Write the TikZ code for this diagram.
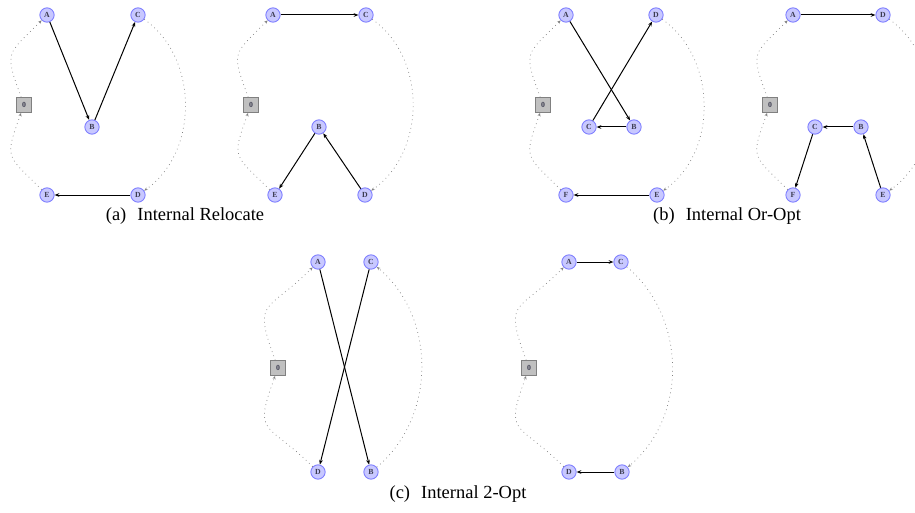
\documentclass[tikz,border=0pt]{standalone}
\usepackage{fontspec}
\setmainfont{Liberation Serif}
\usetikzlibrary{arrows.meta}
\definecolor{custfill}{RGB}{200,200,255}
\definecolor{custdraw}{RGB}{128,128,255}
\definecolor{depotfill}{RGB}{192,192,192}
\definecolor{depotdraw}{RGB}{128,128,128}
\definecolor{labeltext}{RGB}{60,60,80}

\begin{document}
\begin{tikzpicture}[x=0.552pt, y=0.552pt,
    cust/.style={circle, draw=custdraw, fill=custfill, line width=0.5pt,
                 minimum size=7.9pt, inner sep=0pt,
                 font=\fontsize{4.3}{4.3}\selectfont\bfseries, text=labeltext},
    depot/.style={rectangle, draw=depotdraw, fill=depotfill, line width=0.6pt,
                  minimum size=8pt, inner sep=0pt,
                  font=\fontsize{4.3}{4.3}\selectfont\bfseries, text=labeltext},
    route/.style={-{Stealth[length=2.6pt,width=2pt]}, line width=0.55pt},
    rest/.style={-{Stealth[length=2pt,width=1.6pt]}, dotted, gray, line width=0.4pt},
    subcap/.style={font=\fontsize{10.2}{12}\selectfont, anchor=base}
]
\useasboundingbox (0,0) rectangle (915,512);

% (a) Internal Relocate -- before
\node[cust] (alA) at (47,497) {A};
\node[cust] (alC) at (138,497) {C};
\node[depot] (al0) at (24,407) {0};
\node[cust] (alB) at (92,385) {B};
\node[cust] (alE) at (47,317) {E};
\node[cust] (alD) at (138,317) {D};
\draw[route] (alA) -- (alB);
\draw[route] (alB) -- (alC);
\draw[route] (alD) -- (alE);
\draw[rest] (al0) to[out=110,in=225,looseness=1.6] (alA);
\draw[rest] (alC) to[out=-35,in=35] (alD);
\draw[rest] (alE) to[out=135,in=250,looseness=1.6] (al0);

% (a) Internal Relocate -- after
\node[cust] (arA) at (273,497) {A};
\node[cust] (arC) at (366,497) {C};
\node[depot] (ar0) at (251,407) {0};
\node[cust] (arB) at (319,385) {B};
\node[cust] (arE) at (275,317) {E};
\node[cust] (arD) at (365,317) {D};
\draw[route] (arA) -- (arC);
\draw[route] (arD) -- (arB);
\draw[route] (arB) -- (arE);
\draw[rest] (ar0) to[out=110,in=225,looseness=1.6] (arA);
\draw[rest] (arC) to[out=-35,in=35] (arD);
\draw[rest] (arE) to[out=135,in=250,looseness=1.6] (ar0);

\node[subcap] (capa) at (185,292) {(a)\hspace{0.6em}Internal Relocate};

% (b) Internal Or-Opt -- before
\node[cust] (blA) at (566,497) {A};
\node[cust] (blD) at (656,497) {D};
\node[depot] (bl0) at (543,407) {0};
\node[cust] (blC) at (589,385) {C};
\node[cust] (blB) at (634,385) {B};
\node[cust] (blF) at (566,317) {F};
\node[cust] (blE) at (657,317) {E};
\draw[route] (blA) -- (blB);
\draw[route] (blB) -- (blC);
\draw[route] (blC) -- (blD);
\draw[route] (blE) -- (blF);
\draw[rest] (bl0) to[out=110,in=225,looseness=1.6] (blA);
\draw[rest] (blD) to[out=-35,in=35] (blE);
\draw[rest] (blF) to[out=135,in=250,looseness=1.6] (bl0);

% (b) Internal Or-Opt -- after
\node[cust] (brA) at (793,497) {A};
\node[cust] (brD) at (883,497) {D};
\node[depot] (br0) at (770,407) {0};
\node[cust] (brC) at (815,385) {C};
\node[cust] (brB) at (861,385) {B};
\node[cust] (brF) at (793,317) {F};
\node[cust] (brE) at (883,317) {E};
\draw[route] (brA) -- (brD);
\draw[route] (brE) -- (brB);
\draw[route] (brB) -- (brC);
\draw[route] (brC) -- (brF);
\draw[rest] (br0) to[out=110,in=225,looseness=1.6] (brA);
\draw[rest] (brD) to[out=-35,in=35] (brE);
\draw[rest] (brF) to[out=135,in=250,looseness=1.6] (br0);

\node[subcap] (capb) at (727,292) {(b)\hspace{0.6em}Internal Or-Opt};

% (c) Internal 2-Opt -- before
\node[cust] (clA) at (318,250) {A};
\node[cust] (clC) at (371,250) {C};
\node[depot] (cl0) at (278,144) {0};
\node[cust] (clD) at (318,40) {D};
\node[cust] (clB) at (371,40) {B};
\draw[route] (clA) -- (clB);
\draw[route] (clC) -- (clD);
\draw[rest] (cl0) to[out=110,in=225,looseness=1.7] (clA);
\draw[rest] (clB) to[out=40,in=-40] (clC);
\draw[rest] (clD) to[out=135,in=250,looseness=1.7] (cl0);

% (c) Internal 2-Opt -- after
\node[cust] (crA) at (569,250) {A};
\node[cust] (crC) at (621,250) {C};
\node[depot] (cr0) at (529,144) {0};
\node[cust] (crD) at (569,40) {D};
\node[cust] (crB) at (622,40) {B};
\draw[route] (crA) -- (crC);
\draw[route] (crB) -- (crD);
\draw[rest] (cr0) to[out=110,in=225,looseness=1.7] (crA);
\draw[rest] (crC) to[out=-40,in=40] (crB);
\draw[rest] (crD) to[out=135,in=250,looseness=1.7] (cr0);

\node[subcap] (capc) at (458,14) {(c)\hspace{0.6em}Internal 2-Opt};
\end{tikzpicture}
\end{document}
